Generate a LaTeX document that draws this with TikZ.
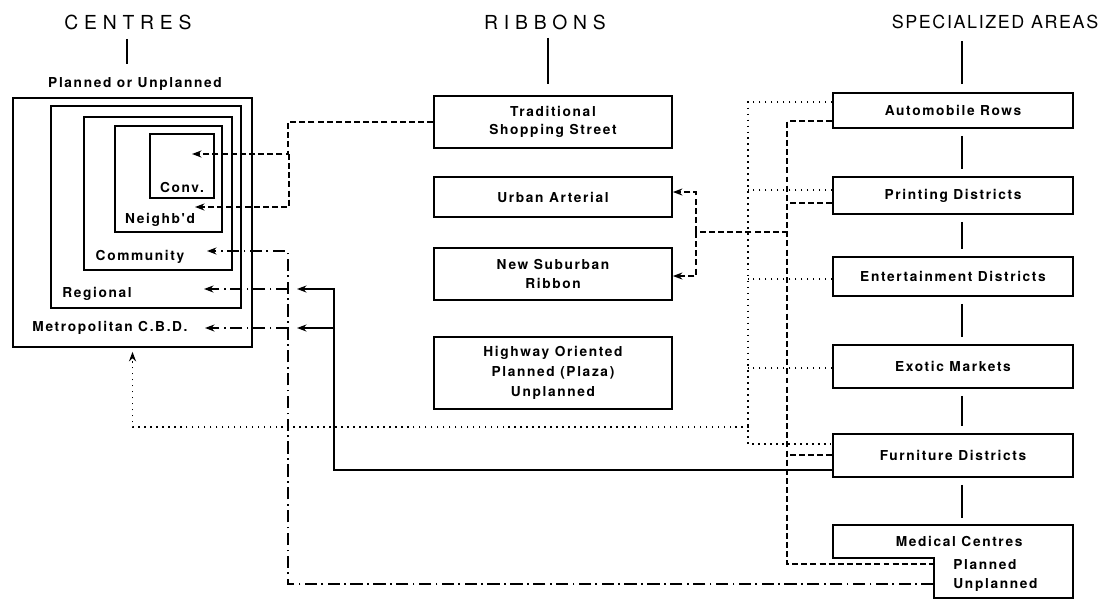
\documentclass[tikz,border=0pt]{standalone}
\usepackage{fontspec}
\setmainfont{TeX Gyre Heros}
\newfontfamily\boxfont[LetterSpace=12]{TeX Gyre Heros}
\newfontfamily\headfont[LetterSpace=30]{TeX Gyre Heros}
\newfontfamily\areafont[LetterSpace=9]{TeX Gyre Heros}
\usetikzlibrary{arrows.meta,calc}

\begin{document}
\begin{tikzpicture}[x=0.02cm, y=-0.02cm,
  every node/.style={font=\boxfont\bfseries\fontsize{7.8}{10.3}\selectfont, inner sep=0pt},
  box/.style={draw, line width=1pt, align=center},
  ribbon/.style={box, minimum width=4.76cm},
  special/.style={box, minimum width=4.8cm},
  head/.style={font=\headfont\fontsize{11}{13}\selectfont},
  tick/.style={line width=1pt},
  link/.style={line width=1pt},
  dashln/.style={link, dash pattern=on 3.4pt off 1.8pt},
  dotln/.style={link, dash pattern=on 0.9pt off 2.5pt},
  dashdot/.style={link, dash pattern=on 7pt off 2.5pt on 1pt off 2.5pt},
  arr/.style={-{Stealth[length=1.9mm,width=1.4mm]}}]
  \useasboundingbox (0,0) rectangle (1119,600);

  % headings
  \node[head] (centres) at (128,22) {CENTRES};
  \node[head] (ribbons) at (545,22) {RIBBONS};
  \node[head, font=\areafont\fontsize{10.2}{13}\selectfont] (areas) at (995,22) {SPECIALIZED AREAS};
  \node (plan) at (135,84) {Planned or Unplanned};
  \draw[tick] ($(centres.south)+(-1,9)$) -- ++(0,25);
  \draw[tick] ($(ribbons.south)+(3,8)$) -- ++(0,46);

  % centres, nested
  \node[box, minimum width=4.78cm, minimum height=4.98cm] (metro) at (132.5,222.5) {};
  \node[box, minimum width=3.8cm, minimum height=4.04cm] (regional) at (146,207) {};
  \node[box, minimum width=2.96cm, minimum height=3.06cm] (community) at (158,193.5) {};
  \node[box, minimum width=2.14cm, minimum height=2.12cm] (neighb) at (168.5,179) {};
  \node[box, minimum width=1.28cm, minimum height=1.28cm] (conv) at (182,166) {};
  \node (convlbl) at (182,187) {Conv.};
  \node (neighblbl) at (160,220) {Neighb'd};
  \node (commlbl) at (140,257) {Community};
  \node (reglbl) at (97,294) {Regional};
  \node (metrolbl) at (110,328) {Metropolitan C.B.D.};

  % ribbons
  \node[ribbon, minimum height=1.04cm] (trad) at (553,122) {Traditional\\Shopping Street};
  \node[ribbon, minimum height=0.8cm] (urban) at (553,197) {Urban Arterial};
  \node[ribbon, minimum height=1.04cm] (suburb) at (553,274) {New Suburban\\Ribbon};
  \node[ribbon, minimum height=1.44cm, font=\boxfont\bfseries\fontsize{7.8}{11.3}\selectfont] (highway) at (553,373) {Highway Oriented\\Planned (Plaza)\\Unplanned};

  % specialized areas
  \node[special, minimum height=0.7cm] (auto) at (953,110.5) {Automobile Rows};
  \node[special, minimum height=0.74cm] (print) at (953,195.5) {Printing Districts};
  \node[special, minimum height=0.78cm] (ent) at (953,276.5) {Entertainment Districts};
  \node[special, minimum height=0.86cm] (exotic) at (953,366.5) {Exotic Markets};
  \node[special, minimum height=0.86cm] (furn) at (953,455.5) {Furniture Districts};
  \node[minimum width=4.8cm, minimum height=0.66cm] (medical) at (953,541.5) {\hspace*{7pt}Medical Centres};
  \draw[line width=1pt] (medical.south west) -- (medical.north west) -- (medical.north east)
    -- ++(0,73) -| ($(medical.south west)+(101,0)$) -- cycle;
  \node[anchor=west] (medplan) at (953,565) {Planned};
  \node[anchor=west] (medunplan) at (953,585) {Unplanned};
  \draw[tick] ($(auto.north)+(9,-8)$) -- ++(0,-43);
  \foreach \a/\b in {auto/print, print/ent, ent/exotic, exotic/furn, furn/medical}
    \draw[tick] ($(\a.south)+(9,7)$) -- ($(\b.north)+(9,-7)$);

  % free ends
  \coordinate (convIn) at (192,154);
  \coordinate (neighbIn) at (195,207);
  \coordinate (commIn) at (207,251);
  \coordinate (regIn) at (204,289);
  \coordinate (metroIn) at (205,328);
  \coordinate (regSolid) at (297,289);
  \coordinate (metroSolid) at (297,328);
  \coordinate (medDash) at ($(medical.south west)+(101,6)$);
  \coordinate (medDashDot) at ($(medical.south west)+(101,26)$);
  \coordinate (ribjoin) at (696,232);

  % traditional street to inner centres
  \draw[dashln, arr] (trad.west) -- ++(-145,0) |- (convIn);
  \draw[dashln, arr] (289,154) |- (neighbIn);

  % dashed bus
  \draw[dashln] ($(auto.west)+(0,10.5)$) -- ++(-45,0) |- (medDash);
  \draw[dashln] ($(print.west)+(0,7.5)$) -- ++(-45,0);
  \draw[dashln] ($(furn.west)+(0,-0.5)$) -- ++(-45,0);
  \draw[dashln] (788,232) -- (ribjoin);
  \draw[dashln, arr] (ribjoin) |- ($(urban.east)+(0,-5)$);
  \draw[dashln, arr] (ribjoin) |- ($(suburb.east)+(0,2)$);

  % dotted bus
  \draw[dotln] ($(auto.west)+(0,-8.5)$) -- ++(-84,0) |- ($(furn.west)+(0,-11.5)$);
  \foreach \n/\dy in {print/-5.5, ent/2.5, exotic/1.5}
    \draw[dotln] ($(\n.west)+(0,\dy)$) -- ++(-84,0);
  \draw[dotln, arr] (749,427) -| ($(metro.south)+(0,4)$);

  % dash-dot from medical centres
  \draw[dashdot, arr] (medDashDot) -- ++(-646,0) |- (commIn);
  \draw[dashdot, arr] (288,289) -- (regIn);
  \draw[dashdot, arr] (288,328) -- (metroIn);

  % solid from furniture districts
  \draw[link, arr] ($(furn.west)+(0,14.5)$) -- ++(-498,0) |- (regSolid);
  \draw[link, arr] (335,328) -- (metroSolid);
\end{tikzpicture}
\end{document}
